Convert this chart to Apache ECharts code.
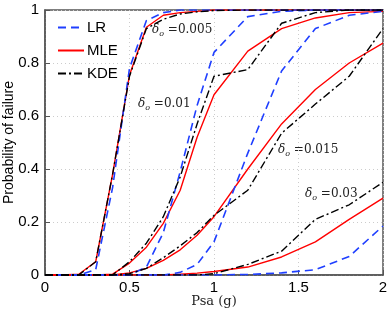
<!DOCTYPE html>
<html><head><meta charset="utf-8">
<script src="https://cdn.jsdelivr.net/npm/echarts@6/dist/echarts.min.js"></script>
<style>html,body{margin:0;padding:0;background:#fff}#c{width:390px;height:311px}</style>
</head><body><div id="c"></div>
<script>
var psa = [0, 0.1, 0.2, 0.3, 0.4, 0.5, 0.6, 0.7, 0.8, 0.9, 1.0, 1.2, 1.4, 1.6, 1.8, 2.0];
var xTicks = [0, 0.5, 1, 1.5, 2];
var yTicks = [0, 0.2, 0.4, 0.6, 0.8, 1];
// delta_o = 0.005
var lr005  = [0, 0, 0, 0.02, 0.33, 0.78, 0.96, 0.99, 1, 1, 1, 1, 1, 1, 1, 1];
var mle005 = [0, 0, 0.003, 0.05, 0.38, 0.755, 0.935, 0.98, 0.99, 0.995, 1, 1, 1, 1, 1, 1];
var kde005 = [0, 0, 0, 0.05, 0.38, 0.75, 0.93, 0.965, 0.985, 0.993, 0.998, 1, 1, 1, 1, 1];
// delta_o = 0.01
var lr01  = [0, 0, 0, 0, 0, 0, 0.03, 0.16, 0.39, 0.64, 0.84, 0.975, 0.995, 1, 1, 1];
var mle01 = [0, 0, 0, 0, 0.003, 0.045, 0.105, 0.195, 0.32, 0.52, 0.68, 0.845, 0.93, 0.97, 0.99, 0.995];
var kde01 = [0, 0, 0, 0, 0, 0.05, 0.12, 0.22, 0.37, 0.57, 0.75, 0.775, 0.95, 0.99, 1, 1];
// delta_o = 0.015
var lr015  = [0, 0, 0, 0, 0, 0, 0, 0, 0.01, 0.04, 0.125, 0.46, 0.77, 0.93, 0.98, 0.995];
var mle015 = [0, 0, 0, 0, 0, 0.008, 0.025, 0.055, 0.095, 0.15, 0.22, 0.40, 0.57, 0.70, 0.80, 0.875];
var kde015 = [0, 0, 0, 0, 0, 0.005, 0.025, 0.065, 0.11, 0.16, 0.225, 0.32, 0.535, 0.645, 0.75, 0.93];
// delta_o = 0.03
var lr03  = [0, 0, 0, 0, 0, 0, 0, 0, 0, 0, 0, 0.002, 0.008, 0.02, 0.07, 0.185];
var mle03 = [0, 0, 0, 0, 0, 0, 0, 0, 0.003, 0.007, 0.013, 0.03, 0.068, 0.125, 0.21, 0.29];
var kde03 = [0, 0, 0, 0, 0, 0, 0, 0, 0, 0, 0.005, 0.04, 0.09, 0.21, 0.265, 0.35];

var methods = ['LR', 'MLE', 'KDE'];
var styles = {
  LR:  {color: '#1f3fff', type: [8, 5], width: 1.6},
  MLE: {color: '#ff0000', type: 'solid', width: 1.4},
  KDE: {color: '#000000', type: [8, 3, 2, 3], width: 1.4}
};
var groups = [
  {LR: lr005, MLE: mle005, KDE: kde005},
  {LR: lr01, MLE: mle01, KDE: kde01},
  {LR: lr015, MLE: mle015, KDE: kde015},
  {LR: lr03, MLE: mle03, KDE: kde03}
];
var series = [];
groups.forEach(function (g) {
  methods.forEach(function (m) {
    var st = styles[m];
    series.push({
      name: m, type: 'line', symbol: 'none', showSymbol: false,
      data: psa.map(function (x, i) { return [x, g[m][i]]; }),
      lineStyle: {color: st.color, type: st.type, width: st.width},
      itemStyle: {color: st.color},
      z: m === 'LR' ? 3 : (m === 'MLE' ? 2 : 4),
      animation: false
    });
  });
});
var labels = [
  {t: '0.005', x: 152, y: 33},
  {t: '0.01', x: 138, y: 107},
  {t: '0.015', x: 278, y: 153},
  {t: '0.03', x: 305, y: 197}
];
var graphics = labels.map(function (l) {
  return {
    type: 'text', left: l.x, top: l.y - 9,
    style: {
      text: '{d|δ}{s|o} =' + l.t,
      rich: {
        d: {fontFamily: 'DejaVu Serif', fontStyle: 'italic', fontSize: 12, fill: '#222'},
        s: {fontFamily: 'DejaVu Serif', fontStyle: 'italic', fontSize: 8, fill: '#222', padding: [8, 0, 0, 0]}
      },
      fontFamily: 'DejaVu Serif', fontSize: 12, fill: '#222'
    }
  };
});
var chart = echarts.init(document.getElementById('c'), null, {renderer: 'canvas'});
chart.setOption({
  animation: false,
  backgroundColor: '#fff',
  grid: {left: 45, right: 7, top: 10, bottom: 36, containLabel: false, outerBoundsMode: 'none',
    show: true, borderColor: '#555', borderWidth: 1.5},
  legend: {
    data: methods, orient: 'vertical', left: 52, top: 15, itemGap: 8,
    itemWidth: 26, itemHeight: 14,
    itemStyle: {opacity: 0},
    textStyle: {fontFamily: 'Liberation Sans', fontSize: 15, color: '#000', padding: [0, 0, 0, -2]}
  },
  xAxis: {
    type: 'value', min: 0, max: 2, interval: 0.5,
    name: 'Psa (g)', nameLocation: 'middle', nameGap: 20, nameMoveOverlap: false,
    nameTextStyle: {fontFamily: 'DejaVu Serif', fontSize: 13, color: '#222'},
    axisLine: {show: true, lineStyle: {color: '#555', width: 1.5}},
    axisTick: {inside: true, length: 5, lineStyle: {color: '#555'}},
    axisLabel: {fontFamily: 'Liberation Sans', fontSize: 15, color: '#000', margin: 5,
      formatter: function (v) { return xTicks.indexOf(v) >= 0 ? String(v) : ''; }},
    splitLine: {show: true, lineStyle: {color: '#ccc', type: [1, 3]}}
  },
  yAxis: {
    type: 'value', min: 0, max: 1, interval: 0.2,
    name: 'Probability of failure', nameLocation: 'middle', nameGap: 29, nameMoveOverlap: false,
    nameTextStyle: {fontFamily: 'Liberation Sans', fontSize: 14, color: '#000'},
    axisLine: {show: true, lineStyle: {color: '#555', width: 1.5}},
    axisTick: {inside: true, length: 5, lineStyle: {color: '#555'}},
    axisLabel: {fontFamily: 'Liberation Sans', fontSize: 15, color: '#000', margin: 6,
      formatter: function (v) { var r = Math.round(v * 10) / 10; return yTicks.indexOf(r) >= 0 ? String(r) : ''; }},
    splitLine: {show: true, lineStyle: {color: '#ccc', type: [1, 3]}}
  },
  series: series,
  graphic: graphics
});
</script></body></html>
